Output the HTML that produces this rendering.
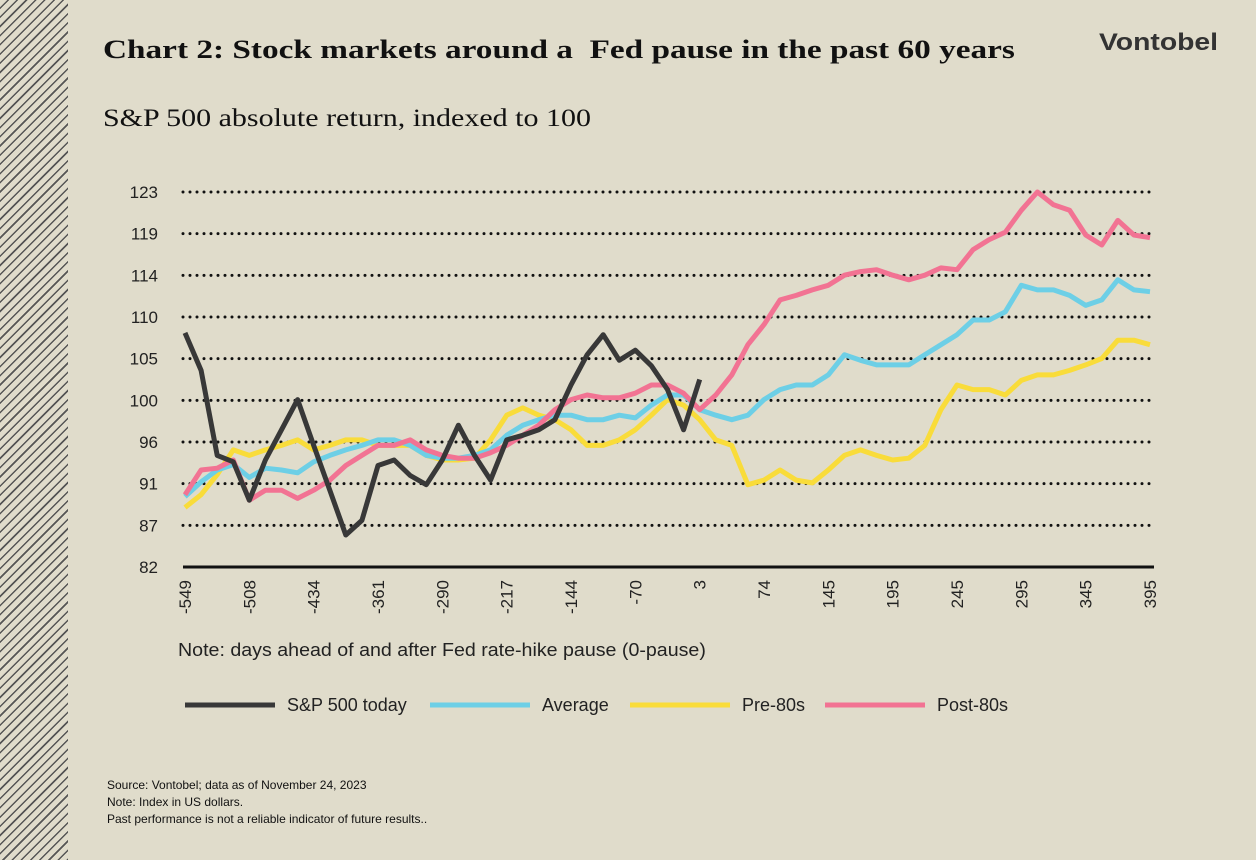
<!DOCTYPE html>
<html><head><meta charset="utf-8"><style>
body{margin:0;width:1256px;height:860px;background:#e0dccb;position:relative;overflow:hidden;font-family:"Liberation Sans",sans-serif;color:#111}
.stripe{position:absolute;left:0;top:0;width:68px;height:860px;background:repeating-linear-gradient(135deg,#e0dccb 0 5px,#555 5px 6.5px)}
.t{position:absolute;white-space:nowrap;transform-origin:0 0}
</style></head><body>
<div class="stripe"></div>
<div class="t" style="left:103px;top:35px;font:bold 26px 'Liberation Serif',serif;transform:scaleX(1.28)">Chart 2: Stock markets around a&nbsp; Fed pause in the past 60 years</div>
<div class="t" style="left:1099px;top:29px;font:bold 24px 'Liberation Sans',sans-serif;color:#333;transform:scaleX(1.18)">Vontobel</div>
<div class="t" style="left:103px;top:105px;font:25px 'Liberation Serif',serif;transform:scaleX(1.2)">S&amp;P 500 absolute return, indexed to 100</div>
<svg id="chart" width="1256" height="860" style="position:absolute;left:0;top:0"></svg>
<div class="t" style="left:178px;top:640px;font-size:18px;color:#222;transform:scaleX(1.09)">Note: days ahead of and after Fed rate-hike pause (0-pause)</div>
<div class="t" style="left:107px;top:777px;font-size:12px;line-height:17px;color:#111">Source: Vontobel; data as of November 24, 2023<br>Note: Index in US dollars.<br>Past performance is not a reliable indicator of future results..</div>
<script>
const tickLabels=[-549,-508,-434,-361,-290,-217,-144,-70,3,74,145,195,245,295,345,395];
const yTicks=[82,87,91,96,100,105,110,114,119,123];
const seriesNames=["S&P 500 today","Average","Pre-80s","Post-80s"];
const seriesColors=["#383838","#6dcfe6","#f9dc3a","#f27393"];
const spToday=[107.6,103.5,94.2,93.5,89.3,93.7,97,100.3,95.3,90.4,85.5,87.1,93.1,93.7,92,91,93.7,97.5,94.2,91.5,95.9,96.4,97,98.1,101.9,105.2,107.4,104.6,105.7,104,101.4,97,102.5];
const average=[89.7,91.3,92.6,93.2,91.8,92.8,92.6,92.3,93.5,94.2,94.8,95.3,95.9,95.9,95.3,94.2,93.9,93.9,94.2,94.8,96.4,97.5,98.1,98.6,98.6,98.1,98.1,98.6,98.3,99.7,100.8,100.8,99.2,98.6,98.1,98.6,100.3,101.4,101.9,101.9,103,105.2,104.6,104.1,104.1,104.1,105.2,106.3,107.4,109,109,109.9,112.8,112.3,112.3,111.7,110.6,111.2,113.4,112.3,112.1];
const pre80s=[88.5,89.9,92.1,94.8,94.2,94.8,95.3,95.9,94.8,95.3,95.9,95.9,95.3,95.3,95.3,94.2,93.7,93.7,93.9,95.9,98.6,99.4,98.6,98.1,97,95.3,95.3,95.9,97,98.6,100.3,99.7,98.1,95.9,95.3,91,91.5,92.6,91.5,91.2,92.6,94.2,94.8,94.2,93.7,93.9,95.3,99.2,101.9,101.4,101.4,100.8,102.4,103,103,103.5,104.1,104.8,106.8,106.8,106.3];
const post80s=[89.9,92.6,92.8,93.7,89.3,90.4,90.4,89.5,90.4,91.5,93.1,94.2,95.3,95.3,95.9,94.8,94.2,93.9,93.9,94.5,95.3,96.4,97.5,99.2,100.3,100.8,100.5,100.5,101,101.9,101.9,101,99.2,100.8,103,106.3,108.5,111.2,111.7,112.3,112.8,113.9,114.3,114.5,113.9,113.4,113.9,114.7,114.5,116.7,117.8,118.6,121,123,121.6,121,118.3,117.2,119.9,118.3,118];
const NS="http://www.w3.org/2000/svg";
const svg=document.getElementById('chart');
const X0=185,X1=1150,Y0=567,Y1=192,N=61;
function xs(i){return X0+i*(X1-X0)/(N-1);}
function ys(v){return Y0-(v-82)/(123-82)*(Y0-Y1);}
function mk(t,a){const e=document.createElementNS(NS,t);for(const k in a)e.setAttribute(k,a[k]);svg.appendChild(e);return e;}
yTicks.forEach((v,k)=>{
  const y=Y0-k*(Y0-Y1)/(yTicks.length-1);
  let g;
  if(k===0){g=mk('line',{x1:183,x2:1154,y1:y,y2:y,stroke:'#111','stroke-width':3});}
  else{g=mk('line',{x1:183,x2:1154,y1:y,y2:y,stroke:'#111','stroke-width':3,'stroke-dasharray':'0 7','stroke-linecap':'round'});}
  
  
  const t=mk('text',{x:158,y:y+6,'text-anchor':'end','font-size':17,'font-family':'Liberation Sans, sans-serif',fill:'#222'});
  t.textContent=v;
  
  
});
tickLabels.forEach((d,k)=>{
  const x=xs(k*4);
  const t=mk('text',{transform:`translate(${x+6},580) rotate(-90)`,'text-anchor':'end','font-size':17,'font-family':'Liberation Sans, sans-serif',fill:'#222'});
  t.textContent=d;
  
  
});
const data=[spToday,average,pre80s,post80s];
[2,1,3,0].forEach(s=>{
  const arr=data[s];
  const p=arr.map((v,i)=>(i?'L':'M')+xs(i).toFixed(1)+','+ys(v).toFixed(1)).join('');
  const e=mk('path',{d:p,fill:'none',stroke:seriesColors[s],'stroke-width':5,'stroke-linejoin':'round'});
  
  
});
const legX=[185,430,630,825];
seriesNames.forEach((n,s)=>{
  const l=mk('line',{x1:legX[s],x2:legX[s]+(s?100:90),y1:705,y2:705,stroke:seriesColors[s],'stroke-width':5});
  
  
  const t=mk('text',{x:legX[s]+(s?112:102),y:711,'font-size':18,'font-family':'Liberation Sans, sans-serif',fill:'#222'});
  t.textContent=n;
  
  
});
</script>
</body></html>
